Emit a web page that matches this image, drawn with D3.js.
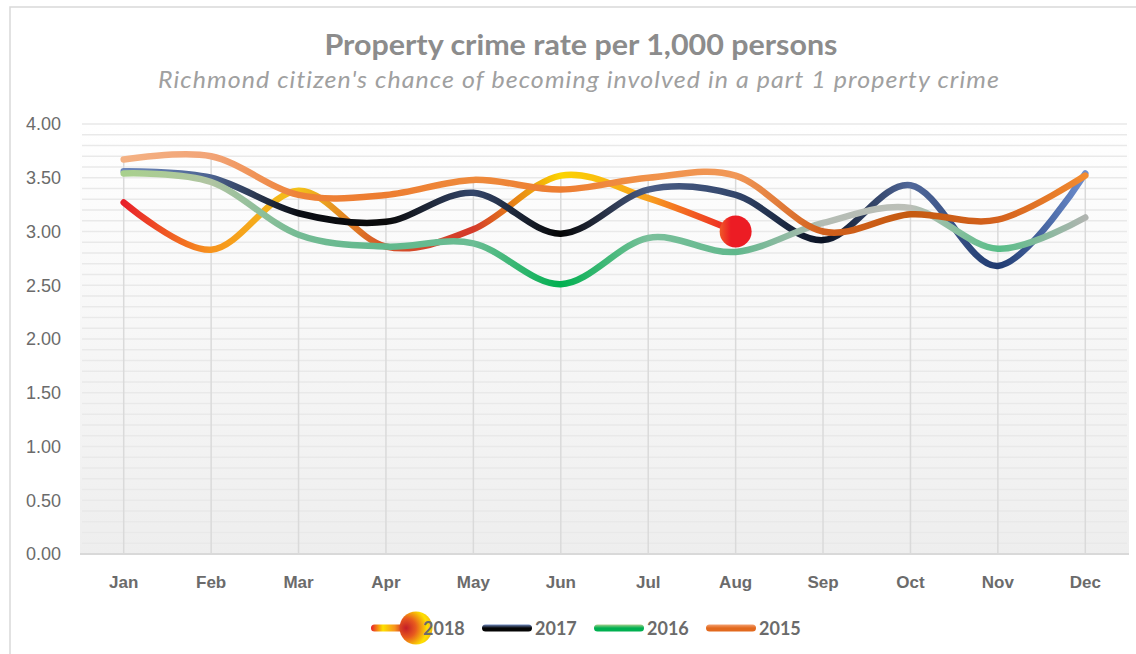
<!DOCTYPE html>
<html>
<head>
<meta charset="utf-8">
<script src="https://cdn.jsdelivr.net/npm/d3@7"></script>
<style>
  body { margin: 0; background: #fff; }
  svg { display: block; font-family: Lato, "Liberation Sans", sans-serif; }
  .axis text { fill: #6b6b6b; }
  .axis path { display: none; }
</style>
</head>
<body>
<div class="svg-container"></div>
<script>
// chart values
let months = ['Jan', 'Feb', 'Mar', 'Apr', 'May', 'Jun', 'Jul', 'Aug', 'Sep', 'Oct', 'Nov', 'Dec'];
let years = ['2018', '2017', '2016', '2015'];
let rate2018 = [3.27, 2.83, 3.38, 2.86, 3.02, 3.52, 3.31, 3.00];
let rate2017 = [3.56, 3.50, 3.17, 3.09, 3.36, 2.98, 3.39, 3.34, 2.92, 3.43, 2.68, 3.54];
let rate2016 = [3.54, 3.46, 2.97, 2.86, 2.89, 2.51, 2.94, 2.81, 3.08, 3.22, 2.84, 3.13];
let rate2015 = [3.67, 3.70, 3.34, 3.34, 3.48, 3.39, 3.50, 3.52, 3.00, 3.16, 3.11, 3.52];
let yTicks = [0, 0.5, 1, 1.5, 2, 2.5, 3, 3.5, 4];

let width = 1136;
let height = 654;

let series = [
  { year: '2018', values: rate2018, stops: ['#e8202a', '#f7941d', '#f3c21a', '#d4502a', '#d43a2a', '#fbd400', '#f8a020', '#ec1c24'] },
  { year: '2017', values: rate2017, stops: ['#6d87bd', '#4c6390', '#0a0d14', '#0a0a0a', '#34466a', '#050505', '#4a5d86', '#33466b', '#0a1222', '#51689a', '#1f3a70', '#6e8fd0'] },
  { year: '2016', values: rate2016, stops: ['#a8d08d', '#b0c4a2', '#74bb94', '#60b88c', '#6cbd94', '#00b050', '#7cc09c', '#60b88c', '#b4bcb4', '#bcbfb8', '#58be88', '#b0b4b0'] },
  { year: '2015', values: rate2015, stops: ['#f4b183', '#f2a477', '#ee8238', '#ed7d31', '#ee8a3c', '#ed7d31', '#f0924a', '#f19858', '#d2601c', '#c55a11', '#d4621e', '#f28b30'] }
];

let svg = d3.select('.svg-container')
  .append('svg')
  .attr('width', width)
  .attr('height', height);

let defs = svg.append('defs');

let xScale = d3.scaleBand()
  .domain(months)
  .range([80, 1129]);
let xMid = m => xScale(m) + xScale.bandwidth() / 2;

let yScale = d3.scaleLinear()
  .domain([0, 4])
  .range([554, 124]);

// outer chart border
svg.append('path')
  .attr('d', `M10,${height} L10,7 L${width},7`)
  .attr('fill', 'none')
  .attr('stroke', '#d9d9d9')
  .attr('stroke-width', 1.5);

// plot background
let bg = defs.append('linearGradient')
  .attr('id', 'plotbg')
  .attr('x1', 0).attr('y1', 0).attr('x2', 0).attr('y2', 1);
bg.append('stop').attr('offset', 0).attr('stop-color', '#ffffff');
bg.append('stop').attr('offset', 1).attr('stop-color', '#eeeeee');

svg.append('rect')
  .attr('x', 80)
  .attr('y', yScale(4))
  .attr('width', 1049)
  .attr('height', yScale(0) - yScale(4))
  .attr('fill', 'url(#plotbg)');

// minor gridlines every 0.1
let minor = d3.range(1, 41).map(d => d / 10);
svg.append('g')
  .selectAll('line')
  .data(minor)
  .enter()
  .append('line')
  .attr('x1', 82)
  .attr('x2', 1127)
  .attr('y1', d => yScale(d))
  .attr('y2', d => yScale(d))
  .attr('stroke', '#e9e9e9')
  .attr('stroke-width', 1.5);

// drop lines from the highest point down to the axis
svg.append('g')
  .selectAll('line')
  .data(months)
  .enter()
  .append('line')
  .attr('x1', d => xMid(d))
  .attr('x2', d => xMid(d))
  .attr('y1', (d, i) => yScale(d3.max(series, s => s.values[i] === undefined ? 0 : s.values[i])))
  .attr('y2', yScale(0))
  .attr('stroke', '#dadada')
  .attr('stroke-width', 1.5);

// x axis line
svg.append('line')
  .attr('x1', 80)
  .attr('x2', 1129)
  .attr('y1', yScale(0))
  .attr('y2', yScale(0))
  .attr('stroke', '#d9d9d9')
  .attr('stroke-width', 2);

let yAxis = d3.axisLeft(yScale)
  .tickValues(yTicks)
  .tickFormat(d3.format('.2f'))
  .tickSize(0)
  .tickPadding(19);

svg.append('g')
  .attr('class', 'axis')
  .attr('transform', 'translate(80, 0)')
  .call(yAxis)
  .selectAll('text')
  .style('font-size', '18px');

let xAxis = d3.axisBottom(xScale)
  .tickSize(0)
  .tickPadding(22);

svg.append('g')
  .attr('class', 'axis')
  .attr('transform', `translate(0, ${yScale(0)})`)
  .call(xAxis)
  .selectAll('text')
  .style('font-size', '17px')
  .style('font-weight', 'bold');

// gradients for each line, stops placed on the months
series.forEach(s => {
  let n = s.values.length;
  let grad = defs.append('linearGradient')
    .attr('id', 'g' + s.year)
    .attr('gradientUnits', 'userSpaceOnUse')
    .attr('x1', xMid(months[0])).attr('y1', 0)
    .attr('x2', xMid(months[n - 1])).attr('y2', 0);
  s.stops.forEach((c, i) => {
    grad.append('stop')
      .attr('offset', i / (s.stops.length - 1))
      .attr('stop-color', c);
  });
});

let line = d3.line()
  .x((d, i) => xMid(months[i]))
  .y(d => yScale(d))
  .curve(d3.curveCardinal.tension(0));

svg.append('g')
  .selectAll('path')
  .data(series)
  .enter()
  .append('path')
  .attr('d', d => line(d.values))
  .attr('fill', 'none')
  .attr('stroke', d => `url(#g${d.year})`)
  .attr('stroke-width', 6.5)
  .attr('stroke-linecap', 'round')
  .attr('stroke-linejoin', 'round');

// big marker on the last 2018 value
let mk = defs.append('linearGradient')
  .attr('id', 'marker')
  .attr('x1', 0).attr('y1', 0).attr('x2', 1).attr('y2', 0);
mk.append('stop').attr('offset', 0).attr('stop-color', '#f05a28');
mk.append('stop').attr('offset', 0.35).attr('stop-color', '#ec1c24');
mk.append('stop').attr('offset', 1).attr('stop-color', '#ec1c24');

let last = rate2018.length - 1;
svg.append('circle')
  .attr('cx', xMid(months[last]))
  .attr('cy', yScale(rate2018[last]))
  .attr('r', 16)
  .attr('fill', 'url(#marker)');

// titles
svg.append('text')
  .attr('x', 581)
  .attr('y', 55)
  .attr('text-anchor', 'middle')
  .attr('textLength', 513)
  .attr('lengthAdjust', 'spacingAndGlyphs')
  .style('font-size', '28px')
  .style('font-weight', 'bold')
  .style('fill', '#8c8c8c')
  .text('Property crime rate per 1,000 persons');

svg.append('text')
  .attr('x', 579)
  .attr('y', 88)
  .attr('text-anchor', 'middle')
  .attr('textLength', 842)
  .attr('lengthAdjust', 'spacingAndGlyphs')
  .style('font-size', '23px')
  .style('font-style', 'italic')
  .style('letter-spacing', '1px')
  .style('fill', '#a0a0a0')
  .text("Richmond citizen's chance of becoming involved in a part 1 property crime");

// legend
let legendY = 628;
let legendX = [371, 482, 594, 706];

let lg18 = defs.append('linearGradient')
  .attr('id', 'lg2018')
  .attr('x1', 0).attr('y1', 0).attr('x2', 1).attr('y2', 0);
[['0', '#e8202a'], ['0.35', '#fde100'], ['0.7', '#f7941d'], ['1', '#c81e28']].forEach(s => {
  lg18.append('stop').attr('offset', s[0]).attr('stop-color', s[1]);
});

let rg18 = defs.append('radialGradient')
  .attr('id', 'lgdot')
  .attr('cx', 0.2).attr('cy', 0.5).attr('r', 0.85)
  .attr('fx', 0.2).attr('fy', 0.5);
rg18.append('stop').attr('offset', 0).attr('stop-color', '#c41e28');
rg18.append('stop').attr('offset', 0.35).attr('stop-color', '#e85a1e');
rg18.append('stop').attr('offset', 0.75).attr('stop-color', '#fde100');
rg18.append('stop').attr('offset', 1).attr('stop-color', '#f5b21a');

let lgEdge = [['lg2017', '#6d87bd', '#050505'], ['lg2016', '#a8d08d', '#00b050'], ['lg2015', '#f4a070', '#e2691e']];
lgEdge.forEach(e => {
  let g = defs.append('linearGradient')
    .attr('id', e[0])
    .attr('x1', 0).attr('y1', 0).attr('x2', 0).attr('y2', 1);
  g.append('stop').attr('offset', 0).attr('stop-color', e[1]);
  g.append('stop').attr('offset', 0.5).attr('stop-color', e[2]);
  g.append('stop').attr('offset', 1).attr('stop-color', e[2]);
});

let legend = svg.append('g');

years.forEach((yr, i) => {
  let x0 = legendX[i];
  let len = i === 0 ? 34 : 50;
  legend.append('rect')
    .attr('x', x0)
    .attr('y', legendY - 3.5)
    .attr('width', len)
    .attr('height', 7)
    .attr('rx', 3.5)
    .attr('fill', `url(#lg${yr})`);
  if (i === 0) {
    legend.append('circle')
      .attr('cx', 416)
      .attr('cy', legendY)
      .attr('r', 16.5)
      .attr('fill', 'url(#lgdot)');
  }
  legend.append('text')
    .attr('x', i === 0 ? 423 : x0 + len + 3)
    .attr('y', legendY + 6.5)
    .style('font-size', '18px')
    .style('font-weight', 'bold')
    .style('fill', '#6b6b6b')
    .text(yr);
});
</script>
</body>
</html>
